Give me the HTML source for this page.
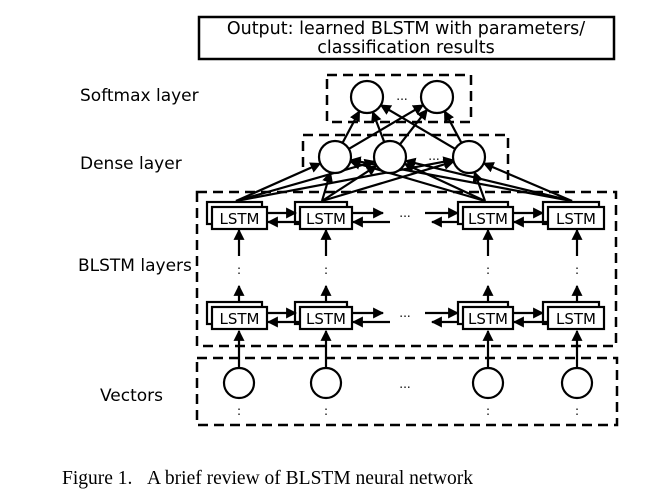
<!DOCTYPE html>
<html><head><style>
body{margin:0;background:#fff;width:659px;height:492px;overflow:hidden}
svg{position:absolute;left:0;top:0}
text{font-family:"DejaVu Sans","Liberation Sans",sans-serif}
</style></head><body>
<svg id="s" width="659" height="492" viewBox="0 0 659 492">
<defs><marker id="a" viewBox="0 0 10 10" refX="9" refY="5" markerWidth="5" markerHeight="5" orient="auto"><path d="M0,0L10,5L0,10z" fill="#000"/></marker></defs>
<rect x="199" y="17" width="415" height="42" fill="none" stroke="#000" stroke-width="2.5"/>
<text x="406" y="34" font-size="17.5" text-anchor="middle">Output: learned BLSTM with parameters/</text>
<text x="406" y="53" font-size="17.5" text-anchor="middle">classification results</text>
<g font-size="17">
<text x="80" y="101">Softmax  layer</text>
<text x="80" y="169">Dense layer</text>
<text x="78" y="271">BLSTM layers</text>
<text x="100" y="401">Vectors</text>
</g>
<text x="62" y="484" font-size="19.5" style="font-family:'Liberation Serif',serif">Figure 1.&#160;&#160;&#160;A brief review of BLSTM neural network</text>
<g fill="none" stroke="#000" stroke-width="2.5" stroke-dasharray="10,6">
<rect x="327" y="75" width="144" height="47"/>
<path d="M303,167V135H508V185"/>
<rect x="197" y="192" width="419" height="154"/>
<rect x="197" y="358" width="420" height="67"/>
</g>
<g id="g" stroke="#000" stroke-width="2.2" fill="#fff"></g>
</svg>
<script>
var g=document.getElementById('g'),NS='http://www.w3.org/2000/svg';
function el(t,a){var e=document.createElementNS(NS,t);for(var k in a)e.setAttribute(k,a[k]);g.appendChild(e);return e}
function ln(x1,y1,x2,y2,ar){var e=el('line',{x1:x1,y1:y1,x2:x2,y2:y2});if(ar)e.setAttribute('marker-end','url(#a)');}
function txt(x,y,s,fs){var e=el('text',{x:x,y:y,'font-size':fs||14,'text-anchor':'middle',stroke:'none',fill:'#000'});e.textContent=s;}
var cols=[[212,267],[300,352],[463,513],[548,604]];
var cx=[239,326,488,577];
var dense=[[335,157],[390,157],[469,157]],soft=[[367,97],[437,97]];
var starts=[[236,201],[322,201],[485,201],[572,201]];
starts.forEach(function(s){dense.forEach(function(d){var dx=d[0]-s[0],dy=d[1]-s[1],L=Math.hypot(dx,dy);ln(s[0],s[1],d[0]-dx/L*16,d[1]-dy/L*16,1);});});
dense.forEach(function(s){soft.forEach(function(d){var dx=d[0]-s[0],dy=d[1]-s[1],L=Math.hypot(dx,dy);ln(s[0]+dx/L*16,s[1]+dy/L*16,d[0]-dx/L*16,d[1]-dy/L*16,1);});});
dense.forEach(function(d){el('circle',{cx:d[0],cy:d[1],r:16});});
soft.forEach(function(d){el('circle',{cx:d[0],cy:d[1],r:16});});
txt(402,100,'...',12);txt(434,160,'...',12);
[207,307].forEach(function(y){
 cols.forEach(function(c){el('rect',{x:c[0]-5,y:y-5,width:c[1]-c[0],height:22});el('rect',{x:c[0],y:y,width:c[1]-c[0],height:22});txt((c[0]+c[1])/2,y+17,'LSTM',15);});
 var a=y+6,b=y+15;
 ln(267,a,296,a,1);ln(300,b,268,b,1);
 ln(352,a,383,a,1);ln(390,b,353,b,1);
 ln(425,a,458,a,1);ln(458,b,432,b,1);
 ln(513,a,543,a,1);ln(548,b,514,b,1);
 txt(405,y+10,'...',12);
});
cx.forEach(function(x){
 ln(x,256,x,230,1);
 ln(x,301,x,286,1);
 txt(x,274,':',12);
 ln(x,368,x,331,1);
 el('circle',{cx:x,cy:383,r:15});
 txt(x,415,':',12);
});
txt(405,388,'...',12);
</script>
</body></html>
